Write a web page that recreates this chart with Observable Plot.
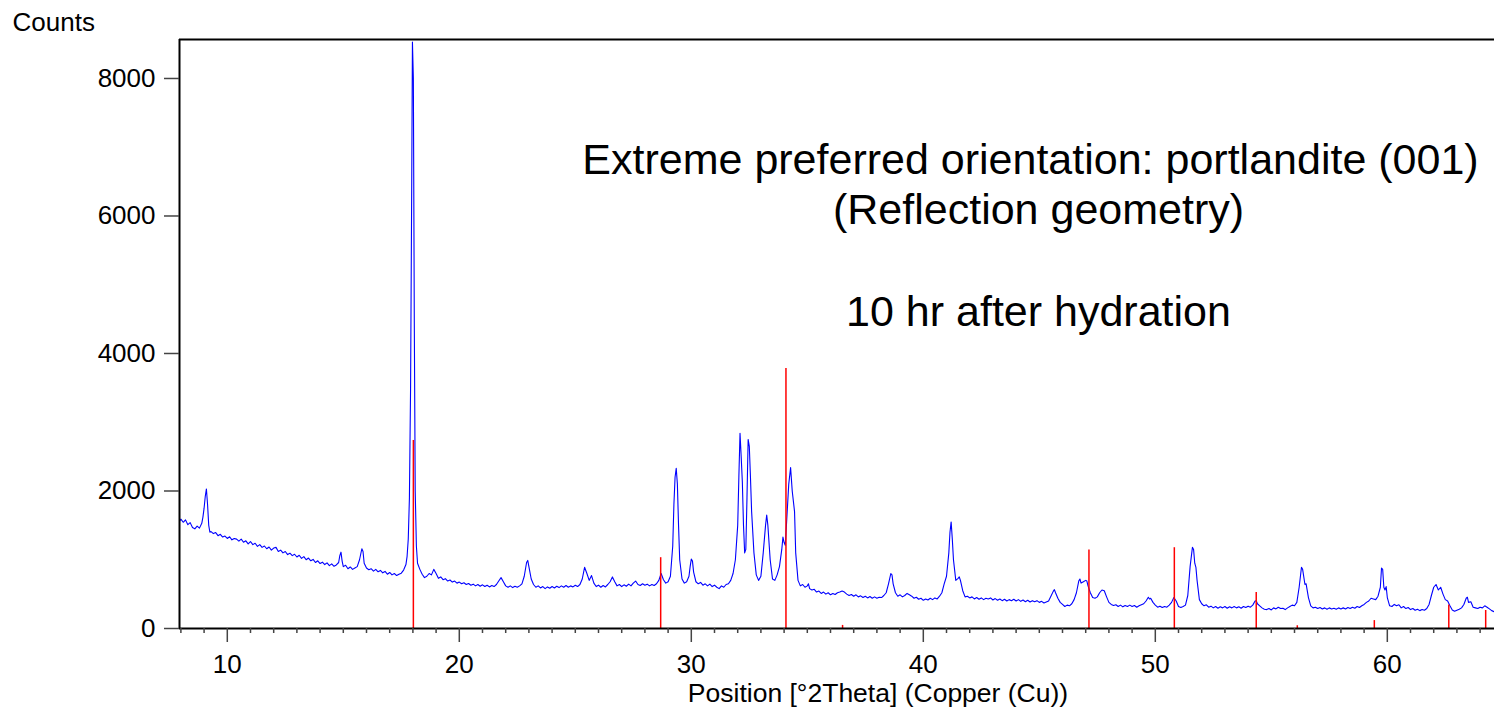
<!DOCTYPE html>
<html><head><meta charset="utf-8">
<script src="https://cdn.jsdelivr.net/npm/d3@7"></script>
<script src="https://cdn.jsdelivr.net/npm/@observablehq/plot@0.6"></script>
<style>html,body{margin:0;padding:0;background:#fff;}</style>
</head><body><div id="chart"></div>
<script>
// Measured pattern, [°2Theta, counts]
const seg1 = [[7.94,1560],[8.0,1590],[8.1,1545],[8.2,1580],[8.3,1510],[8.4,1540],[8.5,1470],[8.6,1450],[8.7,1490],[8.8,1460],[8.9,1530],[8.95,1620],[9.0,1750],[9.05,1920],[9.1,2030],[9.15,1800],[9.2,1500],[9.25,1400],[9.3,1410],[9.4,1380],[9.5,1395],[9.6,1350],[9.7,1370],[9.8,1330],[9.9,1345],[10.0,1310],[10.1,1335],[10.2,1290],[10.3,1310],[10.4,1300],[10.5,1270],[10.6,1300],[10.7,1255],[10.8,1275],[10.9,1230],[11.0,1265],[11.1,1220],[11.2,1240],[11.3,1195],[11.4,1220],[11.5,1180],[11.6,1200],[11.7,1160],[11.8,1185],[11.9,1140],[12.0,1170],[12.1,1180],[12.2,1120],[12.3,1140],[12.4,1100],[12.5,1120],[12.6,1075],[12.7,1095],[12.8,1060],[12.9,1080],[13.0,1040],[13.1,1065],[13.2,1020],[13.3,1045],[13.4,1000],[13.5,1025],[13.6,985],[13.7,1005],[13.8,960],[13.9,985],[14.0,945],[14.1,965],[14.2,930],[14.3,955],[14.4,915],[14.5,940],[14.6,905],[14.7,925],[14.8,960],[14.85,1060],[14.9,1110],[14.95,980],[15.0,900],[15.1,920],[15.2,870],[15.3,895],[15.4,860],[15.5,880],[15.6,900],[15.7,1000],[15.8,1160],[15.85,1120],[15.9,950],[16.0,880],[16.1,855],[16.2,870],[16.3,835],[16.4,860],[16.5,825],[16.6,845],[16.7,810],[16.8,830],[16.9,790],[17.0,815],[17.1,780],[17.2,800],[17.3,770],[17.4,790],[17.5,805]];
const seg2 = [[17.6,850],[17.7,930],[17.75,1050],[17.8,1300],[17.85,1900],[17.9,3500],[17.95,6500],[17.98,8530],[18.02,8000],[18.06,4500],[18.1,2000],[18.15,1200],[18.2,950],[18.3,860],[18.4,790],[18.5,740],[18.6,760],[18.7,800],[18.8,780],[18.9,860],[19.0,800],[19.1,730],[19.2,750],[19.3,710],[19.4,725],[19.5,690],[19.6,705],[19.7,675],[19.8,690],[19.9,660],[20.0,675],[20.1,650],[20.2,665],[20.3,640],[20.4,655],[20.5,630],[20.6,645],[20.7,620],[20.8,640],[20.9,615],[21.0,635],[21.1,610],[21.2,630],[21.3,605],[21.4,625],[21.5,610],[21.6,640],[21.7,690],[21.8,740],[21.9,680],[22.0,620],[22.1,600],[22.2,620],[22.3,595],[22.4,615],[22.5,600],[22.6,620],[22.7,650],[22.8,760],[22.9,960],[22.95,990],[23.0,900],[23.1,720],[23.2,640],[23.3,600],[23.4,620],[23.5,590],[23.6,610],[23.7,580],[23.8,605],[23.9,585],[24.0,610],[24.1,590],[24.2,615],[24.3,595],[24.4,620],[24.5,600],[24.6,625],[24.7,600],[24.8,620],[24.9,605],[25.0,630],[25.1,610],[25.2,640],[25.3,720],[25.4,890],[25.5,800],[25.6,700],[25.7,770],[25.8,660],[25.9,610],[26.0,630],[26.1,600],[26.2,625],[26.3,605],[26.4,640],[26.5,680],[26.6,750],[26.7,680],[26.8,620],[26.9,640],[27.0,610],[27.1,635],[27.2,615],[27.3,645],[27.4,620],[27.5,660],[27.6,690],[27.7,640],[27.8,625],[27.9,650],[28.0,630],[28.1,645],[28.2,620],[28.3,640],[28.4,625],[28.5,650]];
const seg3 = [[28.6,700],[28.7,800],[28.8,710],[28.9,660],[29.0,680],[29.1,760],[29.2,1200],[29.25,1800],[29.3,2200],[29.35,2330],[29.4,2100],[29.45,1500],[29.5,1000],[29.6,720],[29.7,660],[29.8,680],[29.9,760],[29.95,900],[30.0,1010],[30.05,980],[30.1,820],[30.2,680],[30.3,650],[30.4,670],[30.5,630],[30.6,650],[30.7,620],[30.8,645],[30.9,610],[31.0,630],[31.1,600],[31.2,580],[31.3,620],[31.4,600],[31.5,640],[31.6,650],[31.7,700],[31.8,800],[31.9,1000],[32.0,1500],[32.05,2200],[32.1,2840],[32.15,2500],[32.2,2130],[32.25,1500],[32.3,1100],[32.35,1150],[32.4,1900],[32.45,2750],[32.5,2650],[32.55,2200],[32.6,1700],[32.7,1100],[32.8,780],[32.9,700],[33.0,760],[33.1,1100],[33.2,1500],[33.25,1650],[33.3,1500],[33.4,1000],[33.5,720],[33.6,700],[33.7,780],[33.8,900],[33.9,1150],[33.95,1330],[34.0,1250],[34.05,1210],[34.1,1500],[34.2,2100],[34.28,2340],[34.35,2000],[34.45,1700],[34.5,1100],[34.6,700],[34.7,620],[34.8,640],[34.9,600],[35.0,620]];
const seg4 = [[35.05,650],[35.1,580],[35.2,560],[35.3,570],[35.4,530],[35.5,545],[35.6,510],[35.7,530],[35.8,500],[35.9,520],[36.0,490],[36.1,510],[36.2,495],[36.3,520],[36.4,530],[36.5,545],[36.6,530],[36.7,500],[36.8,480],[36.9,495],[37.0,470],[37.1,490],[37.2,460],[37.3,475],[37.4,450],[37.5,470],[37.6,445],[37.7,465],[37.8,440],[37.9,460],[38.0,440],[38.1,455],[38.2,450],[38.3,480],[38.4,520],[38.5,650],[38.6,800],[38.65,780],[38.7,650],[38.8,520],[38.9,470],[39.0,490],[39.1,460],[39.2,480],[39.3,510],[39.4,490],[39.5,470],[39.6,440],[39.7,455],[39.8,425],[39.9,440],[40.0,410],[40.1,430],[40.2,415],[40.3,440],[40.4,420],[40.5,445],[40.6,430],[40.7,470],[40.8,520],[40.9,650],[41.0,760],[41.1,1100],[41.15,1400],[41.2,1550],[41.25,1300],[41.3,1000],[41.4,700],[41.5,730],[41.55,750],[41.6,700],[41.7,550],[41.8,460],[41.9,470],[42.0,445],[42.1,460],[42.2,430],[42.3,450],[42.4,425],[42.5,445],[42.6,420],[42.7,440],[42.8,430],[42.9,445],[43.0,415],[43.1,435],[43.2,410],[43.3,430],[43.4,405],[43.5,425],[43.6,400],[43.7,420],[43.8,405],[43.9,425],[44.0,400],[44.1,420],[44.2,395],[44.3,415],[44.4,390],[44.5,410],[44.6,385],[44.7,405],[44.8,390],[44.9,405],[45.0,380],[45.1,395],[45.2,370],[45.3,385],[45.4,400],[45.5,470],[45.6,540],[45.65,565],[45.7,520],[45.8,440],[45.9,380],[46.0,350],[46.1,320],[46.2,340],[46.3,330],[46.4,360],[46.5,420],[46.6,520],[46.7,690],[46.75,720],[46.8,660],[46.9,680],[47.0,700],[47.05,690],[47.1,620],[47.2,520],[47.3,450],[47.4,440],[47.5,460],[47.6,520],[47.7,560],[47.8,550],[47.9,460],[48.0,380],[48.1,350],[48.2,335],[48.3,345],[48.4,320],[48.5,340],[48.6,315],[48.7,335],[48.8,320],[48.9,340],[49.0,320],[49.1,335],[49.2,310],[49.3,330],[49.4,345],[49.5,360],[49.6,400],[49.7,455],[49.75,430],[49.8,440],[49.9,380],[50.0,340],[50.1,310],[50.2,325],[50.3,305],[50.4,320],[50.5,310],[50.6,340],[50.7,380],[50.8,450],[50.9,400],[51.0,320],[51.1,305],[51.2,320],[51.3,340]];
const seg5 = [[51.4,480],[51.5,900],[51.6,1180],[51.65,1150],[51.7,950],[51.75,890],[51.8,700],[51.9,420],[52.0,360],[52.1,330],[52.2,345],[52.3,310],[52.4,325],[52.5,300],[52.6,320],[52.7,295],[52.8,315],[52.9,300],[53.0,320],[53.1,295],[53.2,315],[53.3,300],[53.4,320],[53.5,300],[53.6,315],[53.7,295],[53.8,320],[53.9,305],[54.0,325],[54.1,310],[54.2,340],[54.3,400],[54.35,405],[54.4,360],[54.5,330],[54.6,300],[54.7,280],[54.8,275],[54.9,290],[55.0,270],[55.1,300],[55.2,285],[55.3,310],[55.4,290],[55.5,295],[55.6,275],[55.7,300],[55.8,320],[55.9,340],[56.0,330],[56.1,380],[56.2,600],[56.3,890],[56.35,860],[56.45,640],[56.5,650],[56.6,450],[56.7,330],[56.8,300],[56.9,310],[57.0,290],[57.1,305],[57.2,285],[57.3,300],[57.4,280],[57.5,300],[57.6,285],[57.7,295],[57.8,280],[57.9,300],[58.0,285],[58.1,300],[58.2,285],[58.3,305],[58.4,290],[58.5,310],[58.6,295],[58.7,320],[58.8,305],[58.9,330],[59.0,350],[59.1,380],[59.2,400],[59.3,440],[59.4,430],[59.5,420],[59.6,470],[59.7,600],[59.75,880],[59.8,860],[59.85,600],[59.9,560],[59.95,610],[60.0,450],[60.1,330],[60.2,320],[60.3,350],[60.4,330],[60.5,345],[60.6,300],[60.7,320],[60.8,290],[60.9,305],[61.0,275],[61.1,290],[61.2,265],[61.3,280],[61.4,260],[61.5,275],[61.6,265],[61.7,290],[61.8,350],[61.9,480],[62.0,600],[62.1,640],[62.2,560],[62.3,600],[62.4,500],[62.5,420],[62.6,400],[62.7,330],[62.8,270],[62.9,250],[63.0,265],[63.1,280],[63.2,300],[63.3,350],[63.4,440],[63.45,455],[63.5,380],[63.6,390],[63.7,310],[63.8,300],[63.9,290],[64.0,310],[64.1,300],[64.2,330],[64.3,310],[64.4,285],[64.5,260],[64.6,245],[64.62,250]];

// Reference pattern sticks (portlandite)
const stickPos    = [18.02, 28.68, 34.08, 36.52, 47.14, 50.82, 54.35, 56.12, 59.44, 62.65, 64.24];
const stickCounts = [2735, 1030, 3780, 45, 1140, 1175, 525, 40, 115, 340, 262];

const xDomain = [7.94, 64.62];
const yDomain = [0, 8567];
const xTicks = [10, 20, 30, 40, 50, 60];
const yTicks = [0, 2000, 4000, 6000, 8000];
const yLabel = "Counts";
const xLabel = "Position [°2Theta] (Copper (Cu))";
const noteLine1 = "Extreme preferred orientation: portlandite (001)";
const noteLine2 = "(Reflection geometry)";
const noteLine3 = "10 hr after hydration";

const pattern = [].concat(seg1, seg2, seg3, seg4, seg5).map(([t, c]) => ({t, c}));
const sticks = stickPos.map((t, i) => ({t, c: stickCounts[i]}));
const minorTicks = d3.range(Math.ceil(xDomain[0]), Math.floor(xDomain[1]) + 1).filter(v => !xTicks.includes(v));

const FONT = "'Liberation Sans', Arial, Helvetica, sans-serif";

const chart = Plot.plot({
  width: 1494, height: 710,
  marginLeft: 179, marginTop: 39, marginRight: 0, marginBottom: 82,
  style: {fontFamily: FONT, fontSize: "26px", background: "#fff", color: "#000", overflow: "visible"},
  x: {domain: xDomain, label: null},
  y: {domain: yDomain, label: null},
  marks: [
    Plot.line(pattern, {x: "t", y: "c", stroke: "#0000ff", strokeWidth: 1.1}),
    Plot.ruleX(sticks, {x: "t", y1: 0, y2: "c", stroke: "#ff0000", strokeWidth: 1.5}),
    Plot.ruleX([xDomain[0]], {stroke: "#000", strokeWidth: 2}),
    Plot.ruleY([yDomain[0]], {stroke: "#000", strokeWidth: 2}),
    Plot.ruleY([yDomain[1]], {stroke: "#000", strokeWidth: 2}),
    Plot.axisX({ticks: minorTicks, tickSize: 5, text: null, stroke: "#444", strokeWidth: 1.5, label: null}),
    Plot.axisX({ticks: xTicks, tickSize: 14, tickPadding: 12, tickFormat: d => String(d), stroke: "#444", strokeWidth: 1.5, fontSize: 26, label: null}),
    Plot.axisY({ticks: yTicks, tickSize: 15, tickPadding: 9, tickFormat: d => String(d), stroke: "#444", strokeWidth: 1.5, fontSize: 26, label: null}),
    Plot.text([yLabel], {text: d => d, frameAnchor: "top-left", dx: -167, dy: -17, textAnchor: "start", lineAnchor: "middle", fontSize: 26}),
    Plot.text([xLabel], {text: d => d, frameAnchor: "bottom", dx: 41, dy: 65, textAnchor: "middle", lineAnchor: "middle", fontSize: 26.5}),
    Plot.text([noteLine1], {text: d => d, frameAnchor: "top-left", dx: 851, dy: 121, textAnchor: "middle", lineAnchor: "middle", fontSize: 43}),
    Plot.text([noteLine2], {text: d => d, frameAnchor: "top-left", dx: 859, dy: 171, textAnchor: "middle", lineAnchor: "middle", fontSize: 43}),
    Plot.text([noteLine3], {text: d => d, frameAnchor: "top-left", dx: 859, dy: 273, textAnchor: "middle", lineAnchor: "middle", fontSize: 43})
  ]
});
document.getElementById("chart").appendChild(chart);
</script>
</body></html>
